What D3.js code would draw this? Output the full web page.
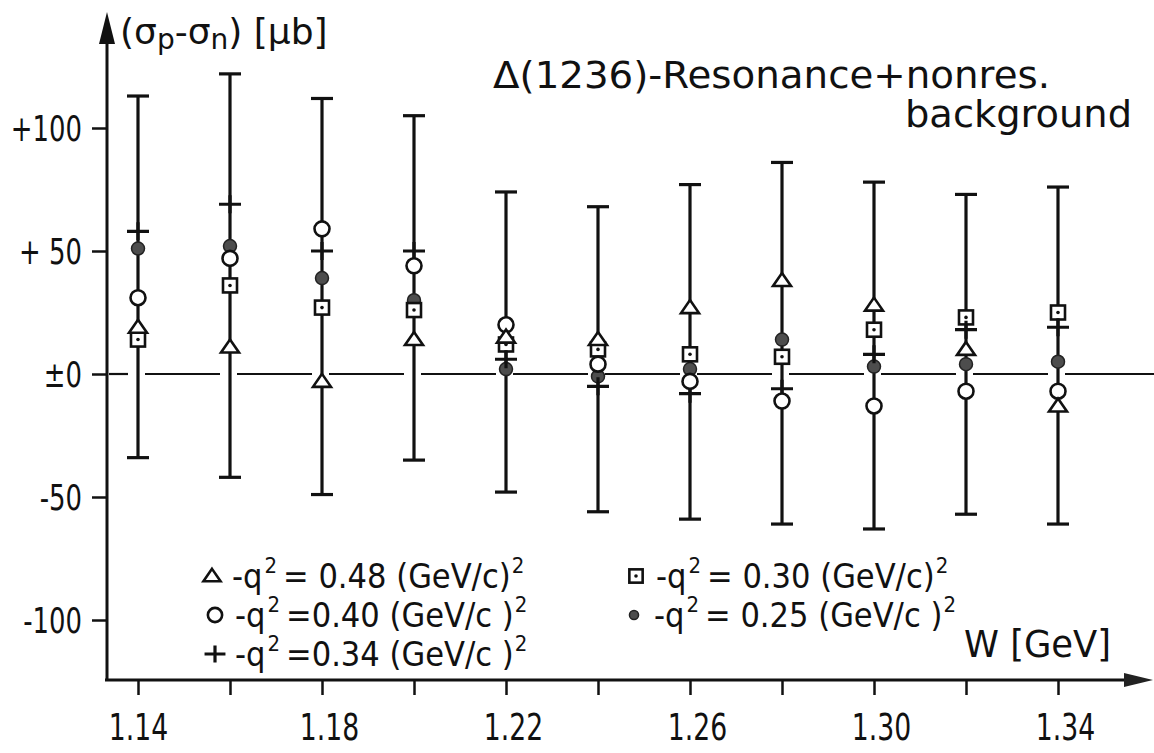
<!DOCTYPE html>
<html>
<head>
<meta charset="utf-8">
<script src="https://cdnjs.cloudflare.com/ajax/libs/d3/7.8.5/d3.min.js"></script>
<style>
  body { margin: 0; background: #fff; }
  svg { display: block; }
</style>
</head>
<body>
<script>
const width = 1154;
const height = 753;

// W values (GeV) and the error bar extent at each W
const W = [1.14, 1.16, 1.18, 1.20, 1.22, 1.24, 1.26, 1.28, 1.30, 1.32, 1.34];
const errHigh = [113, 122, 112, 105, 74, 68, 77, 86, 78, 73, 76];
const errLow = [-34, -42, -49, -35, -48, -56, -59, -61, -63, -57, -61];

// sigma_p - sigma_n [mub] for the five -q^2 values
const q048 = [19, 11, -3, 14, 15, 14, 27, 38, 28, 10, -13];
const q040 = [31, 47, 59, 44, 20, 4, -3, -11, -13, -7, -7];
const q034 = [58, 69, 50, 50, 6, -5, -8, -6, 8, 18, 19];
const q030 = [14, 36, 27, 26, 12, 10, 8, 7, 18, 23, 25];
const q025 = [51, 52, 39, 30, 2, -1, 2, 14, 3, 4, 5];

const yTicks = [100, 50, 0, -50, -100];
const yTickLabels = ["+100", "+ 50", "\u00b10", "-50", "-100"];
const xTickLabels = ["1.14", "", "1.18", "", "1.22", "", "1.26", "", "1.30", "", "1.34"];

const series = [
  { type: "filled", values: q025, val: "= 0.25 (GeV/c )" },
  { type: "square", values: q030, val: "= 0.30 (GeV/c)" },
  { type: "plus", values: q034, val: "=0.34 (GeV/c )" },
  { type: "circle", values: q040, val: "=0.40 (GeV/c )" },
  { type: "tri", values: q048, val: "= 0.48 (GeV/c)" }
];

const textFont = "'DejaVu Sans', sans-serif";
const condFont = "'DejaVu Sans Condensed', 'DejaVu Sans', sans-serif";

const svg = d3.select('body')
  .append('svg')
  .attr('width', width)
  .attr('height', height);

const x = d3.scaleLinear().domain([1.14, 1.34]).range([138, 1058]);
const y = d3.scaleLinear().domain([-100, 100]).range([620, 128]);

const axisX = 107;
const axisY = 680;

// squeeze a text horizontally, the lettering of the original is narrow
const squeeze = (sel, k) => sel.each(function () {
  const len = this.getComputedTextLength();
  if (len > 0) d3.select(this).attr('textLength', len * k).attr('lengthAdjust', 'spacingAndGlyphs');
});

// y axis
const gy = svg.append('g')
  .attr('transform', `translate(${axisX},0)`)
  .call(d3.axisLeft(y).tickValues(yTicks).tickSize(15).tickPadding(10)
    .tickFormat((d, i) => yTickLabels[i]));
gy.select('.domain').remove();
gy.selectAll('.tick line').attr('stroke', '#111').attr('stroke-width', 2.5);
gy.selectAll('.tick text')
  .attr('font-family', condFont).attr('font-size', 36).attr('fill', '#111')
  .attr('dy', '0.36em')
  .call(squeeze, 0.8);

svg.append('line')
  .attr('x1', axisX).attr('x2', axisX)
  .attr('y1', 30).attr('y2', axisY)
  .attr('stroke', '#111').attr('stroke-width', 3);
svg.append('path')
  .attr('d', `M${axisX},12 L${axisX + 8},44 L${axisX - 8},44 Z`)
  .attr('fill', '#111');

// x axis
const gx = svg.append('g')
  .attr('transform', `translate(0,${axisY})`)
  .call(d3.axisBottom(x).tickValues(W).tickSize(15)
    .tickFormat((d, i) => xTickLabels[i]));
gx.select('.domain').remove();
gx.selectAll('.tick line').attr('stroke', '#111').attr('stroke-width', 2.5);
gx.selectAll('.tick text')
  .attr('font-family', condFont).attr('font-size', 38).attr('fill', '#111')
  .attr('dy', null).attr('y', 60).attr('x', (d, i) => i === 0 ? 0 : 7)
  .call(squeeze, 0.78);

svg.append('line')
  .attr('x1', axisX - 2).attr('x2', 1130)
  .attr('y1', axisY).attr('y2', axisY)
  .attr('stroke', '#111').attr('stroke-width', 3);
svg.append('path')
  .attr('d', `M1153,${axisY} L1124,${axisY - 7} L1124,${axisY + 7} Z`)
  .attr('fill', '#222');

// zero line, broken where it meets the error bars
const gaps = [axisX + 2].concat(W.map(w => x(w)));
const zeroSegs = gaps.map((g, i) => [i === 0 ? g : g + 7, i + 1 < gaps.length ? gaps[i + 1] - 10 : 1154]);
svg.append('g')
  .selectAll('line')
  .data(zeroSegs)
  .join('line')
    .attr('x1', d => d[0]).attr('x2', d => d[1])
    .attr('y1', y(0)).attr('y2', y(0))
    .attr('stroke', '#111').attr('stroke-width', 2.2);

// error bars
const bars = svg.append('g')
  .selectAll('g')
  .data(W.map((w, i) => ({ w, hi: errHigh[i], lo: errLow[i] })))
  .join('g')
    .attr('stroke', '#111').attr('stroke-width', 3.2);
bars.append('line')
  .attr('x1', d => x(d.w)).attr('x2', d => x(d.w))
  .attr('y1', d => y(d.hi)).attr('y2', d => y(d.lo));
bars.append('line')
  .attr('x1', d => x(d.w) - 11).attr('x2', d => x(d.w) + 11)
  .attr('y1', d => y(d.hi)).attr('y2', d => y(d.hi));
bars.append('line')
  .attr('x1', d => x(d.w) - 11).attr('x2', d => x(d.w) + 11)
  .attr('y1', d => y(d.lo)).attr('y2', d => y(d.lo));

const drawMarker = (sel, type, s) => {
  if (type === 'tri') {
    sel.append('path')
      .attr('d', `M0,${-7.5 * s} L${9 * s},${5.5 * s} L${-9 * s},${5.5 * s} Z`)
      .attr('fill', '#fff').attr('stroke', '#111').attr('stroke-width', 2.6);
  } else if (type === 'circle') {
    sel.append('circle').attr('r', 7.5 * s)
      .attr('fill', '#fff').attr('stroke', '#111').attr('stroke-width', 2.6);
  } else if (type === 'plus') {
    sel.append('path')
      .attr('d', `M${-11 * s},0 H${11 * s} M0,${-9 * s} V${9 * s}`)
      .attr('fill', 'none').attr('stroke', '#111').attr('stroke-width', 3.2);
  } else if (type === 'square') {
    sel.append('rect')
      .attr('x', -7 * s).attr('y', -7 * s).attr('width', 14 * s).attr('height', 14 * s)
      .attr('fill', '#fff').attr('stroke', '#111').attr('stroke-width', 2.6);
    sel.append('circle').attr('r', 1.8).attr('fill', '#111');
  } else {
    sel.append('circle').attr('r', 6.5 * s)
      .attr('fill', '#4d4d4d').attr('stroke', '#222').attr('stroke-width', 1.5);
  }
};

series.forEach(sr => {
  svg.append('g')
    .selectAll('g')
    .data(sr.values.map((v, i) => ({ w: W[i], v })))
    .join('g')
      .attr('transform', d => `translate(${x(d.w)},${y(d.v)})`)
      .each(function () { drawMarker(d3.select(this), sr.type, 1); });
});

// y axis title
const yt = svg.append('text')
  .attr('x', 120).attr('y', 44)
  .attr('font-family', textFont).attr('font-size', 36).attr('fill', '#111');
yt.append('tspan').text('(\u03c3');
yt.append('tspan').attr('font-size', 28).attr('dy', 5).text('p');
yt.append('tspan').attr('dy', -5).text('-\u03c3');
yt.append('tspan').attr('font-size', 28).attr('dy', 5).text('n');
yt.append('tspan').attr('dy', -5).text(') [\u03bcb]');

// title
svg.append('text')
  .attr('x', 493).attr('y', 88)
  .attr('font-family', textFont).attr('font-size', 38).attr('fill', '#111')
  .attr('textLength', 557).attr('lengthAdjust', 'spacingAndGlyphs')
  .text('\u0394(1236)-Resonance+nonres.');
svg.append('text')
  .attr('x', 905).attr('y', 127)
  .attr('font-family', textFont).attr('font-size', 38).attr('fill', '#111')
  .attr('textLength', 227).attr('lengthAdjust', 'spacingAndGlyphs')
  .text('background');

// x axis title
svg.append('text')
  .attr('x', 964).attr('y', 657)
  .attr('font-family', textFont).attr('font-size', 37).attr('fill', '#111')
  .attr('textLength', 147).attr('lengthAdjust', 'spacingAndGlyphs')
  .text('W [GeV]');

// legend: symbol, "-q", superscript 2, value, superscript 2
const legendPos = {
  tri: [212, 588], circle: [215, 627], plus: [215, 666],
  square: [636, 588], filled: [634, 627]
};
series.forEach(sr => {
  const [lx, ly] = legendPos[sr.type];
  const g = svg.append('g')
    .attr('font-family', condFont).attr('fill', '#111');
  g.append('g')
    .attr('transform', `translate(${lx},${ly - 12})`)
    .call(sel => drawMarker(sel, sr.type, sr.type === 'filled' ? 0.7 : 0.95));
  let cx = lx + 20;
  const part = (txt, size, dy, gap) => {
    const t = g.append('text')
      .attr('x', cx).attr('y', ly + dy)
      .attr('font-size', size)
      .text(txt);
    cx += t.node().getComputedTextLength() + gap;
  };
  part('-q', 34, 0, 2);
  part('2', 22, -15, 6);
  part(sr.val, 34, 0, 1);
  part('2', 22, -15, 0);
});
</script>
</body>
</html>
